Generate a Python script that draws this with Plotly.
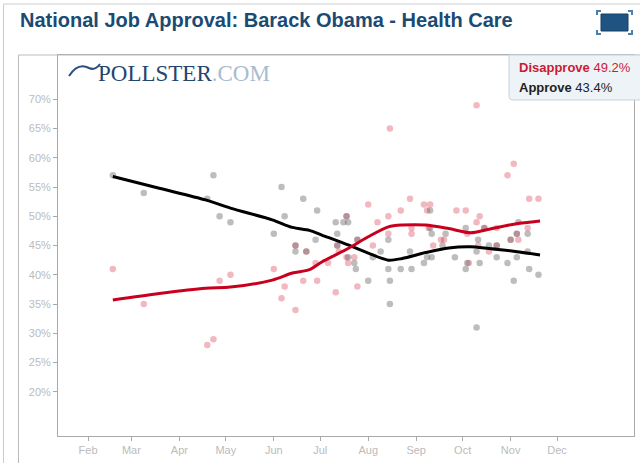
import plotly.graph_objects as go

# trend lines
trend_dates = ["2009-02-17", "2009-03-19", "2009-04-18", "2009-05-04", "2009-05-31",
               "2009-06-13", "2009-06-24", "2009-07-02", "2009-07-19", "2009-08-01",
               "2009-08-14", "2009-08-23", "2009-09-07", "2009-09-22", "2009-10-06",
               "2009-10-18", "2009-11-04", "2009-11-20"]
approve_trend = [56.8, 54.8, 52.8, 51.4, 49.4, 48.1, 47.6, 46.8, 45.1, 43.7,
                 42.5, 42.8, 43.8, 44.6, 44.8, 44.5, 44.0, 43.4]
disapprove_trend = [35.7, 36.8, 37.7, 37.9, 39.1, 40.3, 40.9, 42.2, 44.5, 46.5,
                    48.2, 48.5, 48.5, 47.9, 47.2, 47.8, 48.7, 49.2]

# individual polls
approve_dates = ["2009-02-17", "2009-03-09", "2009-04-19", "2009-04-23", "2009-04-27",
                 "2009-05-04", "2009-06-01", "2009-06-06", "2009-06-08", "2009-06-15",
                 "2009-06-15", "2009-06-20", "2009-06-22", "2009-06-28", "2009-06-29",
                 "2009-07-11", "2009-07-12", "2009-07-12", "2009-07-16", "2009-07-18",
                 "2009-07-19", "2009-07-19", "2009-07-23", "2009-07-24", "2009-07-25",
                 "2009-08-01", "2009-08-04", "2009-08-09", "2009-08-14", "2009-08-14",
                 "2009-08-15", "2009-08-15", "2009-08-22", "2009-08-28", "2009-08-29",
                 "2009-09-06", "2009-09-08", "2009-09-10", "2009-09-10", "2009-09-11",
                 "2009-09-11", "2009-09-18", "2009-09-20", "2009-09-26", "2009-10-03",
                 "2009-10-03", "2009-10-04", "2009-10-10", "2009-10-10", "2009-10-11",
                 "2009-10-12", "2009-10-15", "2009-10-18", "2009-10-23", "2009-10-23",
                 "2009-10-30", "2009-11-01", "2009-11-03", "2009-11-05", "2009-11-05",
                 "2009-11-06", "2009-11-12", "2009-11-12", "2009-11-13", "2009-11-19"]
approve_values = [57, 54, 53, 57, 50,
                  49, 47, 55, 50, 45,
                  44, 53, 44, 46, 51,
                  49, 47, 45, 49, 50,
                  49, 43, 42, 41, 46,
                  39, 43, 44, 46, 41,
                  39, 35, 41, 44, 41,
                  42, 43, 51, 48, 43,
                  47, 45, 47, 43, 48,
                  41, 42, 44, 31, 46,
                  42, 48, 45, 43, 45,
                  42, 46, 39, 43, 47,
                  49, 47, 44, 41, 40]

disapprove_dates = ["2009-02-17", "2009-03-09", "2009-04-19", "2009-04-23", "2009-04-27",
                    "2009-05-04", "2009-06-01", "2009-06-06", "2009-06-08", "2009-06-15",
                    "2009-06-15", "2009-06-20", "2009-06-22", "2009-06-28", "2009-06-29",
                    "2009-07-06", "2009-07-11", "2009-07-12", "2009-07-13", "2009-07-18",
                    "2009-07-18", "2009-07-19", "2009-07-23", "2009-07-25", "2009-07-25",
                    "2009-08-01", "2009-08-04", "2009-08-07", "2009-08-14", "2009-08-14",
                    "2009-08-15", "2009-08-22", "2009-08-28", "2009-08-29", "2009-08-29",
                    "2009-09-06", "2009-09-08", "2009-09-09", "2009-09-10", "2009-09-12",
                    "2009-09-17", "2009-09-19", "2009-09-27", "2009-10-03", "2009-10-04",
                    "2009-10-05", "2009-10-10", "2009-10-10", "2009-10-11", "2009-10-12",
                    "2009-10-15", "2009-10-18", "2009-10-23", "2009-10-23", "2009-10-30",
                    "2009-11-01", "2009-11-03", "2009-11-05", "2009-11-06", "2009-11-12",
                    "2009-11-13", "2009-11-19"]
disapprove_values = [41, 35, 28, 29, 39,
                     40, 41, 36, 38, 34,
                     45, 39, 44, 42, 39,
                     42, 37, 45, 44, 50,
                     43, 42, 43, 46, 38,
                     52, 45, 49, 50, 47,
                     65, 51, 53, 48, 47,
                     52, 51, 48, 52, 45,
                     46, 46, 51, 51, 47,
                     42, 69, 49, 45, 50,
                     48, 44, 48, 45, 57,
                     46, 59, 47, 46, 48,
                     53, 53]

month_ticks = ["2009-02-01", "2009-03-01", "2009-04-01", "2009-05-01", "2009-06-01",
               "2009-07-01", "2009-08-01", "2009-09-01", "2009-10-01", "2009-11-01",
               "2009-12-01"]
month_labels = ["Feb", "Mar", "Apr", "May", "Jun", "Jul", "Aug", "Sep", "Oct", "Nov", "Dec"]
pct_ticks = [20, 25, 30, 35, 40, 45, 50, 55, 60, 65, 70]

W, H = 640, 463
L, R, T, B = 58, 634, 55, 436


def px(x):
    return (x - L) / (R - L)


def py(y):
    return (B - y) / (B - T)


RED = "#c8001e"
fig = go.Figure()

fig.add_trace(go.Scatter(x=disapprove_dates, y=disapprove_values, mode="markers",
                         marker=dict(size=6.5, color="rgba(204,0,30,0.28)"),
                         hoverinfo="skip"))
fig.add_trace(go.Scatter(x=approve_dates, y=approve_values, mode="markers",
                         marker=dict(size=6.5, color="rgba(90,90,90,0.4)"),
                         hoverinfo="skip"))
fig.add_trace(go.Scatter(x=trend_dates, y=approve_trend, mode="lines",
                         line=dict(color="black", width=3, shape="spline", smoothing=0.8),
                         hoverinfo="skip"))
fig.add_trace(go.Scatter(x=trend_dates, y=disapprove_trend, mode="lines",
                         line=dict(color=RED, width=3, shape="spline", smoothing=0.8),
                         hoverinfo="skip"))

axis_font = dict(family="Liberation Sans, Arial, sans-serif", size=11, color="#bbbbbb")

shapes = [
    # outer frame
    dict(type="line", x0=px(3.5), x1=px(3.5), y0=py(4), y1=py(470), line=dict(color="#cccccc", width=1)),
    dict(type="line", x0=px(3.5), x1=px(645), y0=py(4), y1=py(4), line=dict(color="#cccccc", width=1)),
    # inner panel
    dict(type="line", x0=px(18.5), x1=px(18.5), y0=py(55), y1=py(470), line=dict(color="#bbbbbb", width=1)),
    dict(type="line", x0=px(18.5), x1=px(645), y0=py(55), y1=py(55), line=dict(color="#bbbbbb", width=1)),
    # legend box
    dict(type="path",
         path="M %f %f L %f %f Q %f %f %f %f L %f %f L %f %f Z" % (
             px(509), py(55), px(509), py(96), px(509), py(100), px(513), py(100),
             px(645), py(100), px(645), py(55)),
         fillcolor="#eef3f8", line=dict(color="#c4d2df", width=1)),
    # expand icon
    dict(type="rect", x0=px(601), x1=px(628), y0=py(14), y1=py(31),
         fillcolor="#1f5482", line=dict(color="#164066", width=1)),
]
for cx, cy, dx, dy in [(597, 11, 1, 1), (632, 11, -1, 1), (597, 34, 1, -1), (632, 34, -1, -1)]:
    shapes.append(dict(type="path",
                       path="M %f %f L %f %f L %f %f" % (px(cx), py(cy + 4 * dy), px(cx), py(cy),
                                                         px(cx + 4 * dx), py(cy)),
                       line=dict(color="#4a7fae", width=2)))
# pollster swoosh
shapes.append(dict(type="path",
                   path="M %f %f Q %f %f %f %f Q %f %f %f %f" % (
                       px(69), py(76), px(78), py(62), px(89), py(68),
                       px(95), py(71), px(100), py(64)),
                   line=dict(color="#2a4f7a", width=2)))

annotations = [
    dict(text="<b>National Job Approval: Barack Obama - Health Care</b>",
         x=px(18), y=py(20), xanchor="left", yanchor="middle",
         font=dict(family="Liberation Sans, Arial, sans-serif", size=20, color="#1b4a72")),
    dict(text="<b>Disapprove</b> 49.2%", x=px(517), y=py(67), xanchor="left", yanchor="middle",
         font=dict(family="Liberation Sans, Arial, sans-serif", size=13, color="#cc1a33")),
    dict(text="<b>Approve</b> 43.4%", x=px(517), y=py(87), xanchor="left", yanchor="middle",
         font=dict(family="Liberation Sans, Arial, sans-serif", size=13, color="#222222")),
    dict(text="POLLSTER<span style='color:#a8bccf'>.COM</span>", x=px(96), y=py(73),
         xanchor="left", yanchor="middle",
         font=dict(family="Liberation Serif, Times New Roman, serif", size=23, color="#23456e")),
]
for a in annotations:
    a.update(xref="paper", yref="paper", showarrow=False)
for s in shapes:
    s.update(xref="paper", yref="paper")

fig.update_layout(
    width=W, height=H,
    margin=dict(l=L, r=W - R, t=T, b=H - B),
    paper_bgcolor="white", plot_bgcolor="white",
    showlegend=False,
    shapes=shapes, annotations=annotations,
    xaxis=dict(range=["2009-01-12 14:00", "2010-01-19 17:00"], tickvals=month_ticks,
               ticktext=month_labels, ticks="outside", ticklen=4, tickcolor="#aaaaaa",
               showline=True, linecolor="#aaaaaa", mirror=True, showgrid=False,
               zeroline=False, tickfont=axis_font, fixedrange=True),
    yaxis=dict(range=[12.45, 77.57], tickvals=pct_ticks,
               ticktext=["%d%%" % v for v in pct_ticks], ticks="outside", ticklen=4,
               tickcolor="#aaaaaa", showline=True, linecolor="#aaaaaa", mirror=True,
               showgrid=False, zeroline=False, tickfont=axis_font, fixedrange=True),
)

# drop the browser's default page margin so the chart sits at the top-left corner
fig.write_html("out.html", config={"displayModeBar": False},
               post_script="document.body.style.margin='0';")
